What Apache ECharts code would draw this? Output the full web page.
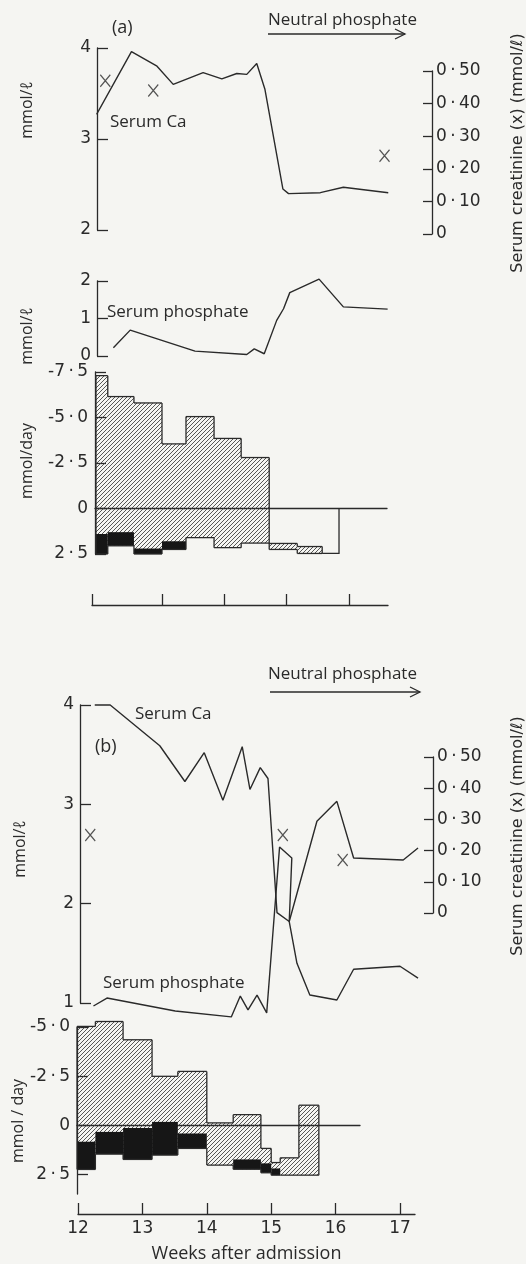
<!DOCTYPE html>
<html><head><meta charset="utf-8">
<script src="https://cdn.jsdelivr.net/npm/echarts@6/dist/echarts.min.js"></script>
<style>html,body{margin:0;padding:0;background:#f5f5f2}#c{width:526px;height:1264px}</style>
</head><body><div id="c"></div>
<script>
// ================= DATA =================
// Panel (a): x in weeks on the panel's own time scale (ticks at 1,2,3,4)
const aTimeTicks = [1, 2, 3, 4];
const aCaWeeks  = [-0.05, 0.51, 0.92, 1.18, 1.66, 1.96, 2.20, 2.36, 2.52, 2.65, 2.94, 3.03, 3.54, 3.91, 4.63];
const aCaValues = [3.27, 3.96, 3.80, 3.60, 3.73, 3.66, 3.72, 3.71, 3.83, 3.55, 2.45, 2.40, 2.41, 2.47, 2.41];
const aCrWeeks  = [0.09, 0.86, 4.57];
const aCrValues = [0.47, 0.44, 0.24];
const aPWeeks   = [0.22, 0.49, 1.53, 2.36, 2.48, 2.64, 2.84, 2.95, 3.05, 3.52, 3.91, 4.62];
const aPValues  = [0.22, 0.69, 0.13, 0.04, 0.19, 0.06, 0.95, 1.26, 1.69, 2.05, 1.31, 1.25];
// balance periods (mmol/day; negative = up)
const aBalEdges    = [-0.06, 0.13, 0.55, 1.0, 1.385, 1.835, 2.27, 2.72, 3.17, 3.57, 3.84];
const aBalTop      = [-7.3, -6.15, -5.8, -3.55, -5.05, -3.85, -2.8, 1.92, 2.09, 0];
const aBalBottom   = [2.5, 2.05, 2.5, 2.25, 1.6, 2.15, 1.9, 2.25, 2.47, 2.47];
const aBalBlackTop = [1.4, 1.3, 2.2, 1.8, null, null, null, null, null, null];
const aBalKind     = ['h','h','h','h','h','h','h','h','h','open'];

// Panel (b): x in weeks after admission
const bWeekLabels = [12, 13, 14, 15, 16, 17];
const bCaWeeks  = [12.26, 12.50, 13.27, 13.66, 13.96, 14.25, 14.55, 14.67, 14.83, 14.95, 15.09, 15.28, 15.71, 16.02, 16.28, 17.05, 17.28];
const bCaValues = [4.0, 4.0, 3.59, 3.23, 3.52, 3.04, 3.58, 3.15, 3.37, 3.26, 1.91, 1.82, 2.83, 3.03, 2.46, 2.44, 2.56];
const bPWeeks   = [12.24, 12.45, 13.51, 14.38, 14.52, 14.64, 14.78, 14.93, 15.13, 15.32, 15.28, 15.40, 15.60, 16.02, 16.28, 17.0, 17.28];
const bPValues  = [0.97, 1.05, 0.92, 0.86, 1.07, 0.93, 1.08, 0.90, 2.57, 2.46, 1.82, 1.40, 1.08, 1.03, 1.34, 1.37, 1.25];
const bCrWeeks  = [12.19, 15.18, 16.11];
const bCrValues = [0.25, 0.25, 0.17];
const bBalEdges    = [11.985, 12.27, 12.70, 13.15, 13.55, 14.0, 14.41, 14.84, 15.0, 15.14, 15.43, 15.74];
const bBalTop      = [-5.03, -5.28, -4.35, -2.49, -2.74, -0.12, -0.54, 1.18, 1.9, 1.66, -1.02];
const bBalBottom   = [2.25, 1.47, 1.74, 1.52, 1.18, 2.03, 2.24, 2.42, 2.54, 2.54, 2.54];
const bBalBlackTop = [0.84, 0.34, 0.14, -0.17, 0.42, null, 1.74, 1.94, 2.2, null, null];
const bBalKind     = ['h','h','h','h','h','h','h','h','h','h','h'];

// ================= LAYOUT / STYLE =================
const INK = '#2a2a2a';
const FONT = 'Open Sans';
const NUMFONT = 'DejaVu Sans';
const wA = px => 1 + (px - 162) / 62.33;   // panel (a) pixel -> week
const wB = px => 14.5 + (px - 239) / 64.4; // panel (b) pixel -> week

function hatchCanvas() {
  const s = 4, c = document.createElement('canvas');
  c.width = s; c.height = s;
  const g = c.getContext('2d');
  g.strokeStyle = '#3a3a3a'; g.lineWidth = 0.85;
  g.beginPath();
  g.moveTo(0, s); g.lineTo(s, 0);
  g.moveTo(-1, 1); g.lineTo(1, -1);
  g.moveTo(s - 1, s + 1); g.lineTo(s + 1, s - 1);
  g.stroke();
  return c;
}
const HATCH = hatchCanvas();

const DOT = '\u2009\u00b7\u2009';
const dec = v => v.toFixed(2).replace('.', DOT);
const crFmt = v => (Math.abs(v) < 1e-9 ? '0' : dec(v));
const balFmt = v => (Math.abs(v) < 1e-9 ? '0' : (v < 0 ? '-' : '') + Math.abs(v).toFixed(1).replace('.', DOT));

const grids = [
  {left: 97, top: 48, width: 335, height: 182, w: wA},   // 0 Ca (a)
  {left: 97, top: 71, width: 335, height: 163, w: wA},   // 1 creatinine (a)
  {left: 97, top: 281, width: 335, height: 75, w: wA},   // 2 phosphate (a)
  {left: 95, top: 372, width: 292, height: 182, w: wA},  // 3 balance (a)
  {left: 92, top: 595, width: 296, height: 10, w: wA},   // 4 time (a)
  {left: 80, top: 705, width: 353, height: 298, w: wB},  // 5 Ca & phosphate (b)
  {left: 80, top: 757, width: 353, height: 156, w: wB},  // 6 creatinine (b)
  {left: 77, top: 1027, width: 283, height: 167, w: wB}, // 7 balance (b)
  {left: 78, top: 1207, width: 337, height: 10, w: wB}   // 8 time (b)
];

const lineS = {color: INK, width: 1.3};
const tickLbl = {color: INK, fontFamily: NUMFONT, fontSize: 17};

const xAxes = grids.map((g, i) => ({
  gridIndex: i, type: 'value',
  min: g.w(g.left), max: g.w(g.left + g.width),
  show: false,
  axisLine: {onZero: false}, splitLine: {show: false}
}));
// balance zero lines
[3, 7].forEach(i => Object.assign(xAxes[i], {
  show: true, axisLine: {show: true, onZero: true, lineStyle: lineS},
  axisTick: {show: false}, axisLabel: {show: false}, splitLine: {show: false}
}));
// time axis (a): ticks only
Object.assign(xAxes[4], {
  show: true, axisLine: {show: true, onZero: false, lineStyle: lineS},
  axisTick: {show: true, inside: true, length: 11, lineStyle: lineS, customValues: [xAxes[4].min].concat(aTimeTicks)},
  axisLabel: {show: false}, splitLine: {show: false}
});
// time axis (b)
Object.assign(xAxes[8], {
  show: true, min: bWeekLabels[0], interval: 1,
  name: 'Weeks after admission', nameLocation: 'middle', nameGap: 31,
  nameTextStyle: {color: INK, fontFamily: FONT, fontSize: 18},
  axisLine: {show: true, onZero: false, lineStyle: lineS},
  axisTick: {show: true, inside: true, length: 11, lineStyle: lineS, customValues: bWeekLabels},
  axisLabel: Object.assign({margin: 6, customValues: bWeekLabels}, tickLbl),
  splitLine: {show: false}
});

function yLeft(gi, min, max, interval, extra) {
  return Object.assign({
    gridIndex: gi, type: 'value', min, max, interval, position: 'left',
    axisLine: {show: true, onZero: false, lineStyle: lineS},
    axisTick: {show: true, inside: true, length: 11, lineStyle: lineS},
    axisLabel: Object.assign({margin: 6}, tickLbl),
    splitLine: {show: false}
  }, extra || {});
}
function yCr(gi) {
  return {
    gridIndex: gi, type: 'value', min: 0, max: 0.5, interval: 0.1, position: 'right',
    axisLine: {show: true, onZero: false, lineStyle: lineS},
    axisTick: {show: true, inside: true, length: 9, lineStyle: lineS},
    axisLabel: Object.assign({margin: 4, formatter: crFmt}, tickLbl),
    splitLine: {show: false}
  };
}
const balTicks = [-5, -2.5, 0, 2.5];
const yAxes = [
  yLeft(0, 2, 4, 1),
  yCr(1),
  yLeft(2, 0, 2, 1),
  yLeft(3, -7.5, 2.5, 2.5, {inverse: true, axisLabel: Object.assign({margin: 7, formatter: balFmt}, tickLbl)}),
  {gridIndex: 4, show: false, min: 0, max: 1},
  yLeft(5, 1, 4, 1),
  yCr(6),
  yLeft(7, -5, 3.5, 2.5, {inverse: true,
    axisTick: {show: true, inside: true, length: 11, lineStyle: lineS, customValues: balTicks},
    axisLabel: Object.assign({margin: 7, formatter: balFmt, customValues: balTicks}, tickLbl)}),
  {gridIndex: 8, show: false, min: 0, max: 1}
];

const zip = (xs, ys) => xs.map((x, i) => [x, ys[i]]);
function lineSeries(xi, xs, ys) {
  return {type: 'line', xAxisIndex: xi, yAxisIndex: xi, data: zip(xs, ys), symbol: 'none',
    lineStyle: {color: INK, width: 1.4}, clip: false, silent: true, z: 5};
}
function crSeries(xi, xs, ys) {
  return {type: 'scatter', xAxisIndex: xi, yAxisIndex: xi, data: zip(xs, ys),
    symbol: 'path://M0,0L10,12M10,0L0,12', symbolSize: [10, 12],
    itemStyle: {color: 'rgba(0,0,0,0)', borderColor: INK, borderWidth: 1.3}, clip: false, silent: true, z: 6};
}
function balSeries(xi, edges, top, bot, blackTop, kind) {
  const data = top.map((t, i) => [edges[i], edges[i + 1], t, bot[i]]);
  const n = data.length;
  return {
    type: 'custom', xAxisIndex: xi, yAxisIndex: xi, data, clip: false, silent: true, z: 3,
    encode: {x: [0, 1], y: [2, 3]},
    renderItem(params, api) {
      const i = params.dataIndex;
      const x0 = api.value(0), x1 = api.value(1), t = api.value(2), b = api.value(3);
      const P = (x, y) => api.coord([x, y]);
      const ls = {stroke: INK, lineWidth: 1.3, fill: null};
      const vline = (x, ya, yb) => { const p = P(x, ya), q = P(x, yb); return {type: 'line', shape: {x1: p[0], y1: p[1], x2: q[0], y2: q[1]}, style: ls}; };
      const hline = (xa, xb, y) => { const p = P(xa, y), q = P(xb, y); return {type: 'line', shape: {x1: p[0], y1: p[1], x2: q[0], y2: q[1]}, style: ls}; };
      const ch = [];
      if (kind[i] === 'open') {
        ch.push({type: 'polyline', shape: {points: [P(x0, b), P(x1, b), P(x1, 0)]}, style: ls});
        return {type: 'group', children: ch};
      }
      const A = P(x0, t), B = P(x1, b);
      ch.push({type: 'rect', shape: {x: A[0], y: A[1], width: B[0] - A[0], height: B[1] - A[1]},
        style: {fill: {image: HATCH, repeat: 'repeat'}}});
      if (blackTop[i] != null) {
        const C = P(x0, blackTop[i]);
        ch.push({type: 'rect', shape: {x: C[0], y: C[1], width: B[0] - C[0], height: B[1] - C[1]}, style: {fill: '#161616'}});
      }
      ch.push(hline(x0, x1, t));
      ch.push(hline(x0, x1, b));
      if (i === 0 || kind[i - 1] === 'open') ch.push(vline(x0, t, b));
      else { ch.push(vline(x0, top[i - 1], t)); ch.push(vline(x0, bot[i - 1], b)); }
      if (i === n - 1 || kind[i + 1] === 'open') ch.push(vline(x1, t, b));
      return {type: 'group', children: ch};
    }
  };
}

const series = [
  lineSeries(0, aCaWeeks, aCaValues),
  crSeries(1, aCrWeeks, aCrValues),
  lineSeries(2, aPWeeks, aPValues),
  balSeries(3, aBalEdges, aBalTop, aBalBottom, aBalBlackTop, aBalKind),
  lineSeries(5, bCaWeeks, bCaValues),
  lineSeries(5, bPWeeks, bPValues),
  crSeries(6, bCrWeeks, bCrValues),
  balSeries(7, bBalEdges, bBalTop, bBalBottom, bBalBlackTop, bBalKind)
];

function txt(text, x, y, size, opts) {
  return Object.assign({type: 'text', x, y, silent: true,
    style: {text, fill: INK, font: size + 'px "' + FONT + '"', align: 'left', verticalAlign: 'middle'}}, opts || {});
}
function vtxt(text, x, y, size, fam) {
  return {type: 'text', x, y, rotation: Math.PI / 2, silent: true,
    style: {text, fill: INK, font: size + 'px "' + (fam || FONT) + '"', align: 'center', verticalAlign: 'middle'}};
}
function arrow(x0, x1, y) {
  return [
    {type: 'line', silent: true, shape: {x1: x0, y1: y, x2: x1, y2: y}, style: {stroke: INK, lineWidth: 1.3}},
    {type: 'polyline', silent: true, shape: {points: [[x1 - 10, y - 5], [x1, y], [x1 - 10, y + 5]]}, style: {stroke: INK, lineWidth: 1.3, fill: null}}
  ];
}

const graphic = [
  txt('(a)', 112, 28, 18),
  txt('Neutral phosphate', 268, 20, 17),
  ...arrow(268, 405, 34),
  txt('Serum Ca', 110, 122, 17),
  txt('Serum phosphate', 107, 312, 17),
  vtxt('mmol/\u2113', 27, 110, 16),
  vtxt('mmol/\u2113', 27, 336, 16),
  vtxt('mmol/day', 27, 461, 16),
  vtxt('Serum creatinine (x) (mmol/\u2113)', 518, 153, 16, NUMFONT),
  txt('Neutral phosphate', 268, 674, 17),
  ...arrow(270, 420, 692),
  txt('Serum Ca', 135, 714, 17),
  txt('(b)', 95, 747, 18),
  txt('Serum phosphate', 103, 983, 17),
  vtxt('mmol/\u2113', 20, 849, 16),
  vtxt('mmol / day', 18, 1121, 16),
  vtxt('Serum creatinine (x) (mmol/\u2113)', 518, 836, 16, NUMFONT)
];

const chart = echarts.init(document.getElementById('c'), null, {renderer: 'canvas', width: 526, height: 1264});
chart.setOption({
  backgroundColor: '#f5f5f2',
  animation: false,
  grid: grids.map(g => ({left: g.left, top: g.top, width: g.width, height: g.height, containLabel: false})),
  xAxis: xAxes,
  yAxis: yAxes,
  series,
  graphic
});
</script>
</body></html>
